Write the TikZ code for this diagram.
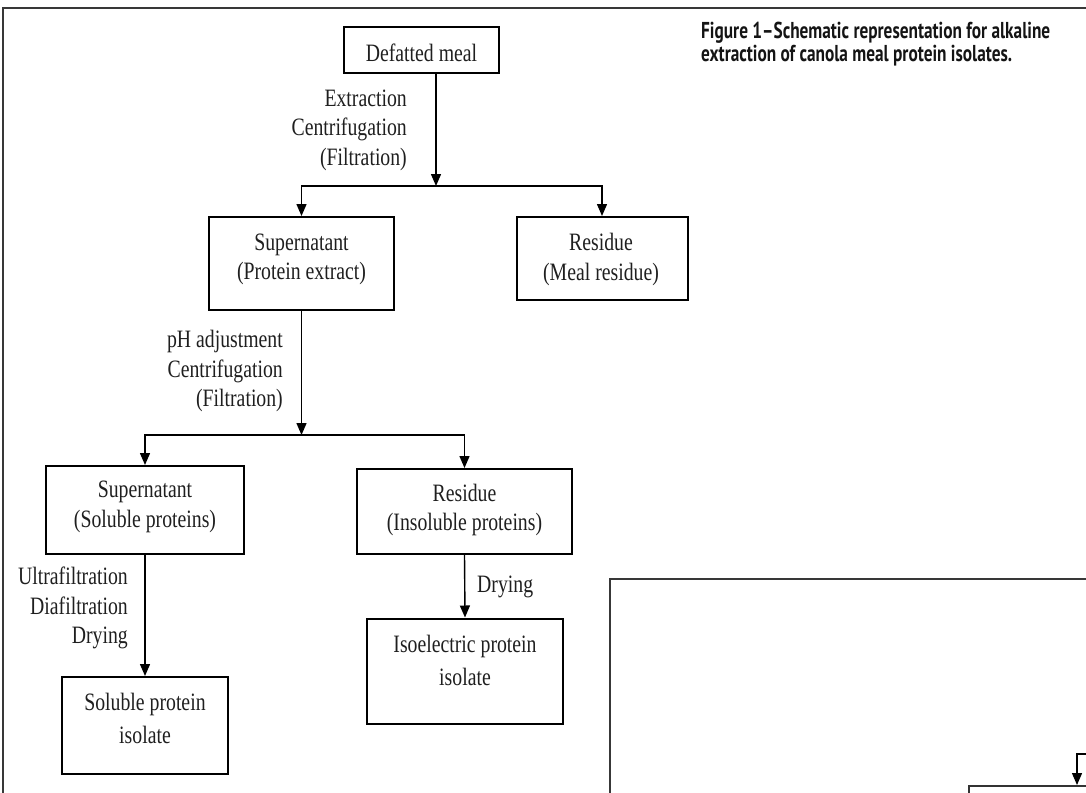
\documentclass[tikz,border=0pt]{standalone}
\usepackage{fontspec}
\setmainfont{Liberation Serif}[FakeStretch=0.79]
\newfontfamily\capfont{PT Sans}
\newcommand\capsel{\capfont\bfseries\fontsize{23}{20}\selectfont}
\usetikzlibrary{arrows.meta}
\newsavebox\capboxA
\begin{document}
\sbox\capboxA{\capsel Figure 1–Schematic representation for alkaline}
\pgfmathsetmacro\capsc{349/\the\wd\capboxA}
\begin{tikzpicture}[x=1pt,y=-1pt,
  box/.style={draw=black, line width=2pt, inner sep=0pt},
  txt/.style={inner sep=0pt, align=center, text=black!88, font=\fontsize{25}{29.5}\selectfont},
  txtw/.style={txt, font=\fontsize{25}{33}\selectfont},
  lbl/.style={inner sep=0pt, align=right, text=black!88, font=\fontsize{25}{29.5}\selectfont},
  arr/.style={line width=1.4pt, -{Triangle[length=12pt,width=10pt]}},
  frame/.style={draw=black!78, line width=2pt},
  captxt/.style={inner sep=0pt, anchor=base west, text=black!92}
]
\useasboundingbox (0,0) rectangle (1086,792);
\clip (0,0) rectangle (1086,792);

% outer frame and partial shapes
\draw[frame] (1100,8) -- (3,8) -- (3,800);
\draw[frame] (609.5,800) -- (609.5,578.5) -- (1100,578.5);

% boxes
\node[box, minimum width=155pt, minimum height=46pt] (dm) at (421.5,50) {};
\node[box, minimum width=185pt, minimum height=93pt] (sup1) at (301.5,263.5) {};
\node[box, minimum width=171pt, minimum height=83pt] (res1) at (602,258.5) {};
\node[box, minimum width=198pt, minimum height=88pt] (sup2) at (145,510) {};
\node[box, minimum width=215pt, minimum height=85pt] (res2) at (464.5,511.5) {};
\node[box, minimum width=166pt, minimum height=97pt] (spi) at (145,725.5) {};
\node[box, minimum width=196pt, minimum height=105pt] (iso) at (465,671) {};
\node[box, line width=2.4pt, draw=black!80, anchor=north west, minimum width=200pt, minimum height=60pt] (nxt) at (968,785) {};

% box texts
\node[txt] (dmt) at (421.5,52.5) {Defatted meal};
\node[txt] (sup1t) at (301.5,259.5) {Supernatant\\(Protein extract)};
\node[txt] (res1t) at (601,259.5) {Residue\\(Meal residue)};
\node[txt] (sup2t) at (145,507) {Supernatant\\(Soluble proteins)};
\node[txt] (res2t) at (464.5,510) {Residue\\(Insoluble proteins)};
\node[txtw] (spit) at (145,718) {Soluble protein\\isolate};
\node[txtw] (isot) at (465,660) {Isoelectric protein\\isolate};

% step labels
\node[lbl, anchor=east] (ext) at (407,130) {Extraction\\Centrifugation\\(Filtration)};
\node[lbl, anchor=east] (ph) at (283,371) {pH adjustment\\Centrifugation\\(Filtration)};
\node[lbl, anchor=east] (uf) at (128,608) {Ultrafiltration\\Diafiltration\\Drying};
\node[lbl, anchor=west, align=left] (dry) at (477,587) {Drying};

% connectors
\coordinate (j1) at (436,186);
\draw[arr] (dm.south -| j1) -- (j1);
\draw[arr] (j1) -| (sup1.north);
\draw[arr] (j1) -| (res1.north);
\coordinate (j2) at (301.5,435);
\draw[arr] (sup1.south) -- (j2);
\draw[arr] (j2) -| (sup2.north);
\draw[arr] (j2) -| (res2.north);
\draw[arr] (sup2.south) -- (spi.north);
\draw[arr] (res2.south) -- (iso.north);
\coordinate (nin) at (1100,754);
\coordinate (ntip) at (1077,785);
\draw[arr] (nin) -| (ntip);

% caption
\node[captxt] (cap1) at (701,38) {\scalebox{\capsc}[1]{\capsel Figure 1–Schematic representation for alkaline}};
\node[captxt] (cap2) at (701,61) {\scalebox{\capsc}[1]{\capsel extraction of canola meal protein isolates.}};
\end{tikzpicture}
\end{document}
